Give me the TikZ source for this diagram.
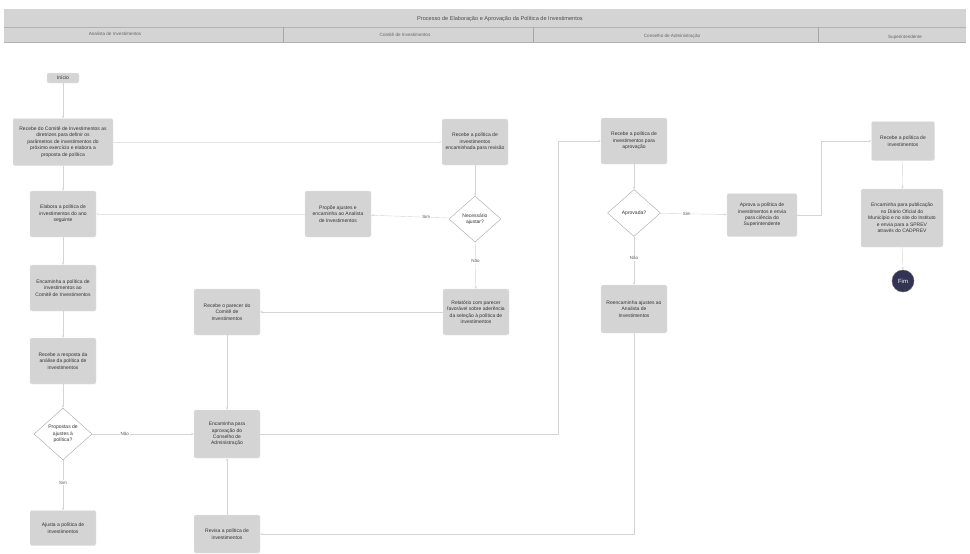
\documentclass[tikz,border=0pt]{standalone}
\usepackage{fontspec}
\setmainfont{Liberation Sans}
\usetikzlibrary{arrows.meta,positioning,shapes.geometric,calc}

\begin{document}
\begin{tikzpicture}[x=1pt,y=-1pt,
    every node/.style={font=\fontsize{5}{6.4}\selectfont,text=black!80},
    etapa/.style={fill=black!17,draw=black!10,rounded corners=2pt,align=center,
      minimum width=66pt,minimum height=46pt,inner sep=1.5pt},
    decisao/.style={diamond,draw=black!35,fill=white,align=center,inner sep=0pt,
      minimum width=58pt,minimum height=52pt},
    fluxo/.style={draw=black!17,line width=0.4pt,-{Stealth[length=2.6pt,width=2.2pt]}},
    rotulo/.style={font=\fontsize{4.5}{5}\selectfont,text=black!65,fill=white,inner sep=1pt},
    raia/.style={font=\fontsize{4.6}{5}\selectfont,text=black!60}]
      \useasboundingbox (0,0) rectangle (970,554);
      \begin{scope}
        \fill[black!17] (4,9) rectangle (966,42);
        \draw[black!30] (4,27) -- (966,27);
        \draw[black!30] (4,42) -- (966,42);
        \foreach \xdiv in {283,533,818}
          \draw[black!35] (\xdiv,27) -- (\xdiv,42);
        \node[font=\fontsize{5.6}{6}\selectfont,text=black!70] (titulo) at (500,19) {Processo de Elaboração e Aprovação da Política de Investimentos};
        \node[raia] (raia1) at (115,34) {Analista de Investimentos};
        \node[raia] (raia2) at (405,35) {Comitê de Investimentos};
        \node[raia] (raia3) at (672,36) {Conselho de Administração};
        \node[raia] (raia4) at (905,37) {Superintendente};
      \end{scope}
      \begin{scope}
        % analista
        \node[etapa,minimum width=32pt,minimum height=10pt] (inicio) at (63,78) {Início};
        \node[etapa,minimum width=100pt,minimum height=47pt] (b2) at (63,142) {Recebe do Comitê de Investimentos as\\diretrizes para definir os\\parâmetros de investimentos do\\próximo exercício e elabora a\\proposta de política};
        \node[etapa] (b3) at (63,214) {Elabora a política de\\investimentos do ano\\seguinte};
        \node[etapa] (b4) at (63,288) {Encaminha a política de\\investimentos ao\\Comitê de Investimentos};
        \node[etapa] (b5) at (63,361) {Recebe a resposta da\\análise da política de\\investimentos};
        \node[decisao] (dec1) at (63,434) {Propostas de\\ajustes à\\política?};
        \node[etapa,minimum height=35pt] (b6) at (63,528) {Ajusta a política de\\investimentos};
        \node[etapa] (c1) at (227,312) {Recebe o parecer do\\Comitê de\\Investimentos};
        \node[etapa,minimum height=48pt] (c2) at (227,434) {Encaminha para\\aprovação do\\Conselho de\\Administração};
        \node[etapa,minimum height=38pt] (c3) at (227,534) {Revisa a política de\\investimentos};
      \end{scope}
      \begin{scope}
        % comite
        \node[etapa] (d0) at (338,214) {Propõe ajustes e\\encaminha ao Analista\\de Investimentos};
        \node[etapa] (d1) at (475,142) {Recebe a política de\\investimentos\\encaminhada para revisão};
        \node[decisao,minimum width=52pt,minimum height=46pt] (dec2) at (475,219) {Necessário\\ajustar?};
        \node[etapa] (d2) at (476,312) {Relatório com parecer\\favorável sobre aderência\\da seleção à política de\\investimentos};
      \end{scope}
      \begin{scope}
        % conselho
        \node[etapa] (e1) at (634,141) {Recebe a política de\\investimentos para\\aprovação};
        \node[decisao,minimum width=53pt,minimum height=47pt] (dec3) at (634,213) {Aprovada?};
        \node[etapa,minimum width=70pt,minimum height=43pt] (e2) at (762,215) {Aprova a política de\\investimentos e envia\\para ciência do\\Superintendente};
        \node[etapa,minimum height=48pt] (e3) at (634,309) {Reencaminha ajustes ao\\Analista de\\Investimentos};
      \end{scope}
      \begin{scope}
        % superintendente
        \node[etapa,minimum width=63pt,minimum height=39pt] (f1) at (903,141) {Recebe a política de\\investimentos};
        \node[etapa,minimum width=82pt,minimum height=58pt] (f2) at (902,218) {Encaminha para publicação\\no Diário Oficial do\\Município e no site do Instituto\\e envia para a SPREV\\através do CADPREV};
        \node[circle,fill=black!55!blue!35!black!80,draw=black!60,minimum size=22pt,inner sep=0pt,text=white,font=\fontsize{6}{6}\selectfont] (fim) at (903,281) {Fim};
      \end{scope}
      \begin{scope}
        \draw[fluxo] (inicio) -- (b2);
        \draw[fluxo] (b2) -- (b3);
        \draw[fluxo] (b3) -- (b4);
        \draw[fluxo] (b4) -- (b5);
        \draw[fluxo] (b5) -- (dec1);
        \draw[fluxo] (dec1) -- node[rotulo,pos=0.45] {Sim} (b6);
        \draw[fluxo] (dec1) -- node[rotulo,pos=0.32] {Não} (c2);
        \draw[fluxo,black!10] (b2) -- (d1); % para o comite
        \draw[fluxo,black!10] (d0) -- (b3); % ajustes
        \draw[fluxo] (d1) -- (dec2);
        \draw[fluxo] (dec2) -- node[rotulo,pos=0.3] {Sim} (d0);
        \draw[fluxo] (dec2) -- node[rotulo,pos=0.4] {Não} (d2);
        \draw[fluxo] (d2) -- (c1);
        \draw[fluxo] (c1) -- (c2);
        \draw[fluxo] (c3) -- (c2);
        \draw[fluxo] (c2.east) -- ++(298,0) |- (e1.west); % para o conselho
        \draw[fluxo] (e1) -- (dec3);
        \draw[fluxo] (dec3) -- node[rotulo,pos=0.4] {Sim} (e2);
        \draw[fluxo] (dec3) -- node[rotulo,pos=0.45] {Não} (e3);
        \draw[fluxo] (e3.south) |- (c3.east); % volta ao analista
        \draw[fluxo] (e2.east) -- ++(24,0) |- (f1.west);
        \draw[fluxo] (f1) -- (f2);
        \draw[fluxo] (f2) -- (fim);
      \end{scope}
    \end{tikzpicture}
\end{document}
